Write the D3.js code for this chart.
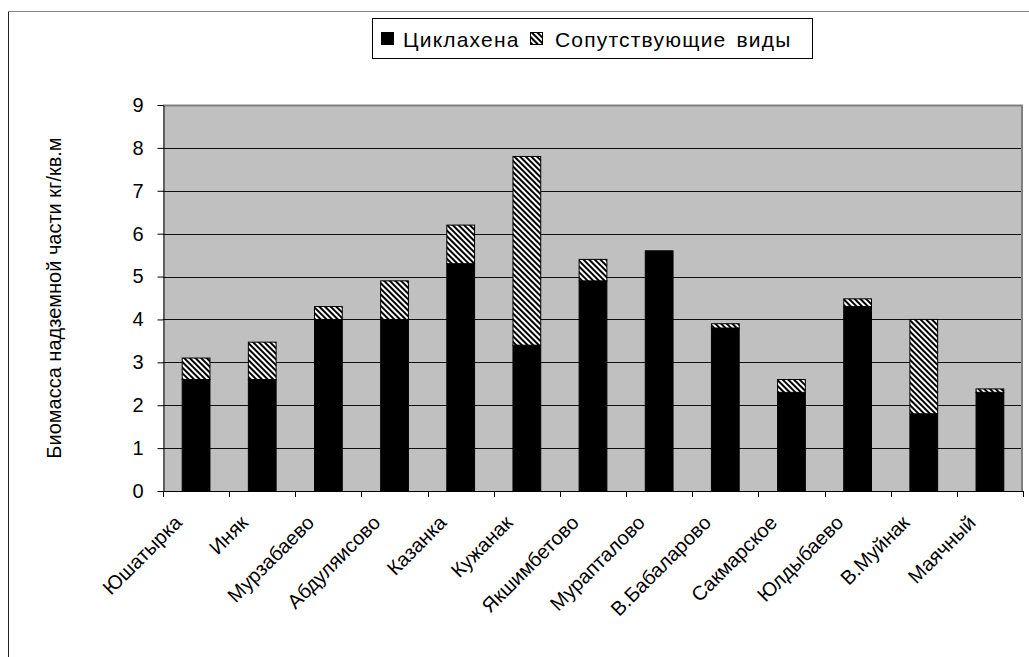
<!DOCTYPE html>
<html>
<head>
<meta charset="utf-8">
<script src="https://cdn.jsdelivr.net/npm/d3@7"></script>
<style>
  html, body { margin: 0; padding: 0; background: #fff; }
  svg { display: block; font-family: "Liberation Sans", Arial, sans-serif; }
</style>
</head>
<body>
<svg id="chart" width="1029" height="657"></svg>
<script>
// Aboveground biomass by site, kg per sq. m
const categories = ["Юшатырка", "Иняк", "Мурзабаево", "Абдуляисово", "Казанка", "Кужанак",
  "Якшимбетово", "Мурапталово", "В.Бабаларово", "Сакмарское", "Юлдыбаево", "В.Муйнак", "Маячный"];
const cyclachaena = [2.6, 2.6, 4.0, 4.0, 5.3, 3.4, 4.9, 5.6, 3.8, 2.3, 4.3, 1.8, 2.3];
const associated = [0.5, 0.87, 0.3, 0.9, 0.9, 4.4, 0.5, 0.0, 0.1, 0.3, 0.18, 2.2, 0.08];
const seriesNames = ["Циклахена", "Сопутствующие виды"];
const yTicks = [0, 1, 2, 3, 4, 5, 6, 7, 8, 9];
const yTitle = "Биомасса надземной части кг/кв.м";

const svg = d3.select("#chart");
const plot = { left: 163, right: 1023, top: 105, bottom: 491 };

// Diagonal hatch used for the second series
const defs = svg.append("defs");
const pat = defs.append("pattern")
  .attr("id", "hatch")
  .attr("patternUnits", "userSpaceOnUse")
  .attr("width", 4).attr("height", 4)
  .attr("patternTransform", "rotate(-45)");
pat.append("rect").attr("width", 4).attr("height", 4).attr("fill", "#fff");
pat.append("rect").attr("width", 2).attr("height", 4).attr("fill", "#000");

// Outer chart frame
svg.append("line").attr("x1", 8.5).attr("x2", 8.5).attr("y1", 11).attr("y2", 657)
  .attr("stroke", "#222").attr("stroke-width", 1);
svg.append("line").attr("x1", 8).attr("x2", 1029).attr("y1", 11.5).attr("y2", 11.5)
  .attr("stroke", "#888").attr("stroke-width", 1);

const x = d3.scaleBand().domain(categories)
  .range([plot.left, plot.right]).paddingInner(1.3 / 2.3).paddingOuter(1.3 / 4.6);
const band = d3.scaleBand().domain(categories).range([plot.left, plot.right]);
const y = d3.scaleLinear().domain([0, 9]).range([plot.bottom, plot.top]);

// Plot area background
svg.append("rect")
  .attr("x", plot.left).attr("y", plot.top)
  .attr("width", plot.right - plot.left).attr("height", plot.bottom - plot.top)
  .attr("fill", "#c0c0c0");

// Horizontal gridlines
svg.append("g").selectAll("line").data(yTicks.filter(d => d > 0 && d < 9)).join("line")
  .attr("x1", plot.left).attr("x2", plot.right)
  .attr("y1", d => Math.round(y(d)) + 0.5).attr("y2", d => Math.round(y(d)) + 0.5)
  .attr("stroke", "#111").attr("stroke-width", 1);

// Plot area border (top and right)
svg.append("path")
  .attr("d", `M${plot.left},${plot.top + 0.5}H${plot.right - 1}V${plot.bottom}`)
  .attr("fill", "none").attr("stroke", "#808080").attr("stroke-width", 2);

// Stacked bars
const stack = d3.stack().keys([0, 1]).value((d, k) => d[k]);
const rows = categories.map((c, i) => Object.assign([cyclachaena[i], associated[i]], { cat: c }));
const layers = stack(rows);
const fills = ["#000", "url(#hatch)"];
layers.forEach((layer, k) => {
  svg.append("g").selectAll("rect").data(layer.filter(d => d[1] - d[0] > 0)).join("rect")
    .attr("x", d => x(d.data.cat) + 0.5)
    .attr("width", x.bandwidth() - 1)
    .attr("y", d => y(d[1]))
    .attr("height", d => y(d[0]) - y(d[1]))
    .attr("fill", fills[k])
    .attr("stroke", "#000").attr("stroke-width", 1);
});

// Y axis
const yAxis = svg.append("g").attr("transform", `translate(${plot.left + 0.5},0)`)
  .call(d3.axisLeft(y).tickValues(yTicks).tickSize(6).tickSizeOuter(0).tickPadding(14));
yAxis.select(".domain").attr("stroke", "#000");
yAxis.selectAll(".tick line").attr("stroke", "#000");
yAxis.selectAll(".tick text").attr("font-size", 20).attr("fill", "#000")
  .attr("font-family", "'Liberation Sans', Arial, sans-serif");

// X axis line and ticks at category boundaries
const xg = svg.append("g");
xg.append("line").attr("x1", plot.left).attr("x2", plot.right)
  .attr("y1", plot.bottom + 0.5).attr("y2", plot.bottom + 0.5)
  .attr("stroke", "#000");
const bounds = categories.map(c => band(c)).concat([plot.right]);
xg.selectAll("line.tk").data(bounds).join("line").attr("class", "tk")
  .attr("x1", d => Math.round(d) + 0.5).attr("x2", d => Math.round(d) + 0.5)
  .attr("y1", plot.bottom).attr("y2", plot.bottom + 6)
  .attr("stroke", "#000");

// Rotated category labels
xg.selectAll("text").data(categories).join("text")
  .attr("transform", d => `translate(${band(d) + band.bandwidth() / 2 - 13},524) rotate(-45)`)
  .attr("text-anchor", "end")
  .attr("font-size", 20)
  .attr("fill", "#000")
  .text(d => d);

// Y axis title
svg.append("text")
  .attr("transform", `translate(61,${(plot.top + plot.bottom) / 2}) rotate(-90)`)
  .attr("text-anchor", "middle")
  .attr("font-size", 20)
  .attr("fill", "#000")
  .text(yTitle);

// Legend
const lg = svg.append("g");
lg.append("rect").attr("x", 372.5).attr("y", 18.5).attr("width", 440).attr("height", 40)
  .attr("fill", "#fff").attr("stroke", "#000");
const legendItems = [
  { name: seriesNames[0], fill: fills[0], sx: 381, tx: 403 },
  { name: seriesNames[1], fill: fills[1], sx: 530, tx: 555 }
];
legendItems.forEach(it => {
  lg.append("rect").attr("x", it.sx + 0.5).attr("y", 32.5).attr("width", 12).attr("height", 12)
    .attr("fill", it.fill).attr("stroke", "#000");
  lg.append("text").attr("x", it.tx).attr("y", 47).attr("font-size", 21)
    .attr("letter-spacing", 1.2).attr("word-spacing", 3).attr("fill", "#000")
    .text(it.name);
});
</script>
</body>
</html>
